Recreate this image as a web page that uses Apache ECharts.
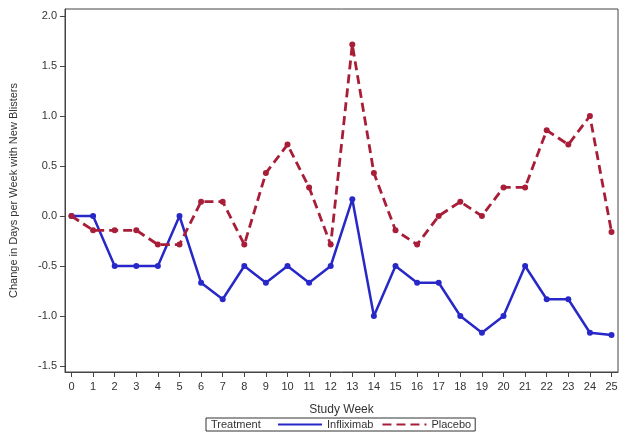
<!DOCTYPE html>
<html>
<head>
<meta charset="utf-8">
<script src="https://cdn.jsdelivr.net/npm/echarts@6/dist/echarts.min.js"></script>
<style>html,body{margin:0;padding:0;background:#fff;}#c{width:629px;height:442px;}</style>
</head>
<body>
<div id="c"></div>
<script>
const weeks = [0,1,2,3,4,5,6,7,8,9,10,11,12,13,14,15,16,17,18,19,20,21,22,23,24,25];
const infliximab = [0,0,-0.5,-0.5,-0.5,0,-0.667,-0.833,-0.5,-0.667,-0.5,-0.667,-0.5,0.167,-1.0,-0.5,-0.667,-0.667,-1.0,-1.167,-1.0,-0.5,-0.833,-0.833,-1.167,-1.19];
const placebo = [0,-0.143,-0.143,-0.143,-0.286,-0.286,0.143,0.143,-0.286,0.429,0.714,0.286,-0.286,1.714,0.429,-0.143,-0.286,0,0.143,0,0.286,0.286,0.857,0.714,1.0,-0.16];
const yTicks = [-1.5,-1.0,-0.5,0.0,0.5,1.0,1.5,2.0];
const xTicks = weeks;

const font = 'Liberation Sans, Arial, sans-serif';
const txt = '#333';
const blue = '#2828c8';
const red = '#a81e38';

const chart = echarts.init(document.getElementById('c'));
chart.setOption({
  animation: false,
  backgroundColor: '#fff',
  grid: { left: 60, right: 11, top: 9, bottom: 70, show: true, borderColor: '#444', borderWidth: 1, containLabel: false },
  xAxis: {
    type: 'value', min: -0.3, max: 25.3,
    name: 'Study Week', nameLocation: 'middle', nameGap: 32,
    nameTextStyle: { fontFamily: font, fontSize: 12, color: txt },
    axisLine: { show: true, onZero: false, lineStyle: { color: '#444', width: 1 } },
    axisTick: { show: true, customValues: xTicks, length: 5, lineStyle: { color: '#444' } },
    axisLabel: { customValues: xTicks, fontFamily: font, fontSize: 11, color: txt, margin: 9 },
    splitLine: { show: false }
  },
  yAxis: {
    type: 'value', min: -1.56, max: 2.07,
    name: 'Change in Days per Week with New Blisters', nameLocation: 'middle', nameGap: 46,
    nameTextStyle: { fontFamily: font, fontSize: 11, color: txt },
    axisLine: { show: true, onZero: false, lineStyle: { color: '#444', width: 1 } },
    axisTick: { show: true, customValues: yTicks, length: 5, lineStyle: { color: '#444' } },
    axisLabel: { customValues: yTicks, fontFamily: font, fontSize: 11, color: txt, margin: 8,
      formatter: v => Number(v).toFixed(1) },
    splitLine: { show: false }
  },
  legend: {
    left: 206, top: 418,
    padding: [1, 4, 1, 71],
    borderColor: '#333', borderWidth: 1,
    itemWidth: 44, itemHeight: 12, itemGap: 8,
    textStyle: { fontFamily: font, fontSize: 11, color: txt },
    itemStyle: { color: 'transparent', borderWidth: 0 },
    data: ['Infliximab', 'Placebo']
  },
  graphic: [
    { type: 'text', left: 211, top: 419, style: { text: 'Treatment', fontFamily: font, fontSize: 11, fill: txt } }
  ],
  series: [
    {
      name: 'Infliximab', type: 'line',
      data: weeks.map((w, i) => [w, infliximab[i]]),
      symbol: 'circle', symbolSize: 6,
      itemStyle: { color: blue },
      lineStyle: { color: blue, width: 2.5 }
    },
    {
      name: 'Placebo', type: 'line',
      data: weeks.map((w, i) => [w, placebo[i]]),
      symbol: 'circle', symbolSize: 6,
      itemStyle: { color: red },
      lineStyle: { color: red, width: 2.8, type: [9, 5] }
    }
  ]
});
</script>
</body>
</html>
